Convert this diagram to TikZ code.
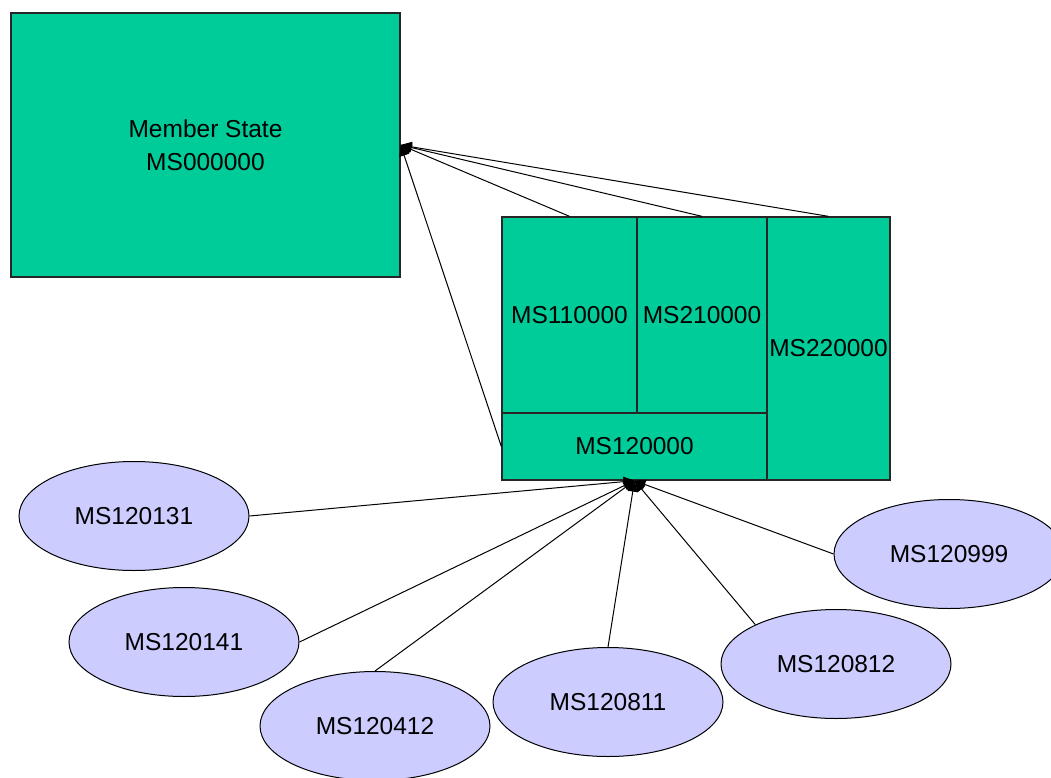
\documentclass[tikz,border=0pt]{standalone}
\usepackage{fontspec}
\setmainfont{Liberation Sans}
\usetikzlibrary{shapes.geometric,arrows.meta}
\definecolor{boxgreen}{RGB}{0,204,153}
\definecolor{lav}{RGB}{204,204,255}
\begin{document}
\begin{tikzpicture}[x=1pt,y=-1pt,
  gbox/.style={draw=black!85,line width=1.3pt,fill=boxgreen,rectangle,inner sep=0pt,
    font=\fontsize{24.5}{31}\selectfont,align=center},
  oval/.style={draw=black,line width=1pt,fill=lav,ellipse,inner sep=0pt,
    minimum width=230pt,minimum height=109pt,font=\fontsize{24.5}{30}\selectfont},
  link/.style={draw=black,line width=1pt,-{Triangle[length=11pt,width=10pt]}}]
\useasboundingbox (0,0) rectangle (1051,778);
\fill[white] (0,0) rectangle (1051,778);
\node[gbox,minimum width=389pt,minimum height=264pt] (ms) at (205.5,145) {Member State\\[2pt]MS000000};
\node[gbox,minimum width=135pt,minimum height=196pt] (m11) at (569.5,315) {MS110000};
\node[gbox,minimum width=130pt,minimum height=196pt] (m21) at (702,315) {MS210000};
\node[gbox,minimum width=123pt,minimum height=263pt] (m22) at (828.5,348.5) {MS220000};
\node[gbox,minimum width=265pt,minimum height=67pt] (m12) at (634.5,446.5) {MS120000};

\node[oval] (e131) at (134,516) {MS120131};
\node[oval] (e141) at (184,642) {MS120141};
\node[oval] (e412) at (375,726) {MS120412};
\node[oval] (e811) at (608,702) {MS120811};
\node[oval] (e812) at (836,664) {MS120812};
\node[oval] (e999) at (949,554) {MS120999};

\draw[link] (m11.north) -- (ms.east);
\draw[link] (m21.north) -- (ms.east);
\draw[link] (m22.north) -- (ms.east);
\draw[link] (m12.west) -- (ms.east);

\draw[link] (e131.east) -- (m12.south);
\draw[link] (e141.east) -- (m12.south);
\draw[link] (e412.north) -- (m12.south);
\draw[link] (e811.north) -- (m12.south);
\draw[link] (e812.154) -- (m12.south);
\draw[link] (e999.west) -- (m12.south);
\end{tikzpicture}
\end{document}
